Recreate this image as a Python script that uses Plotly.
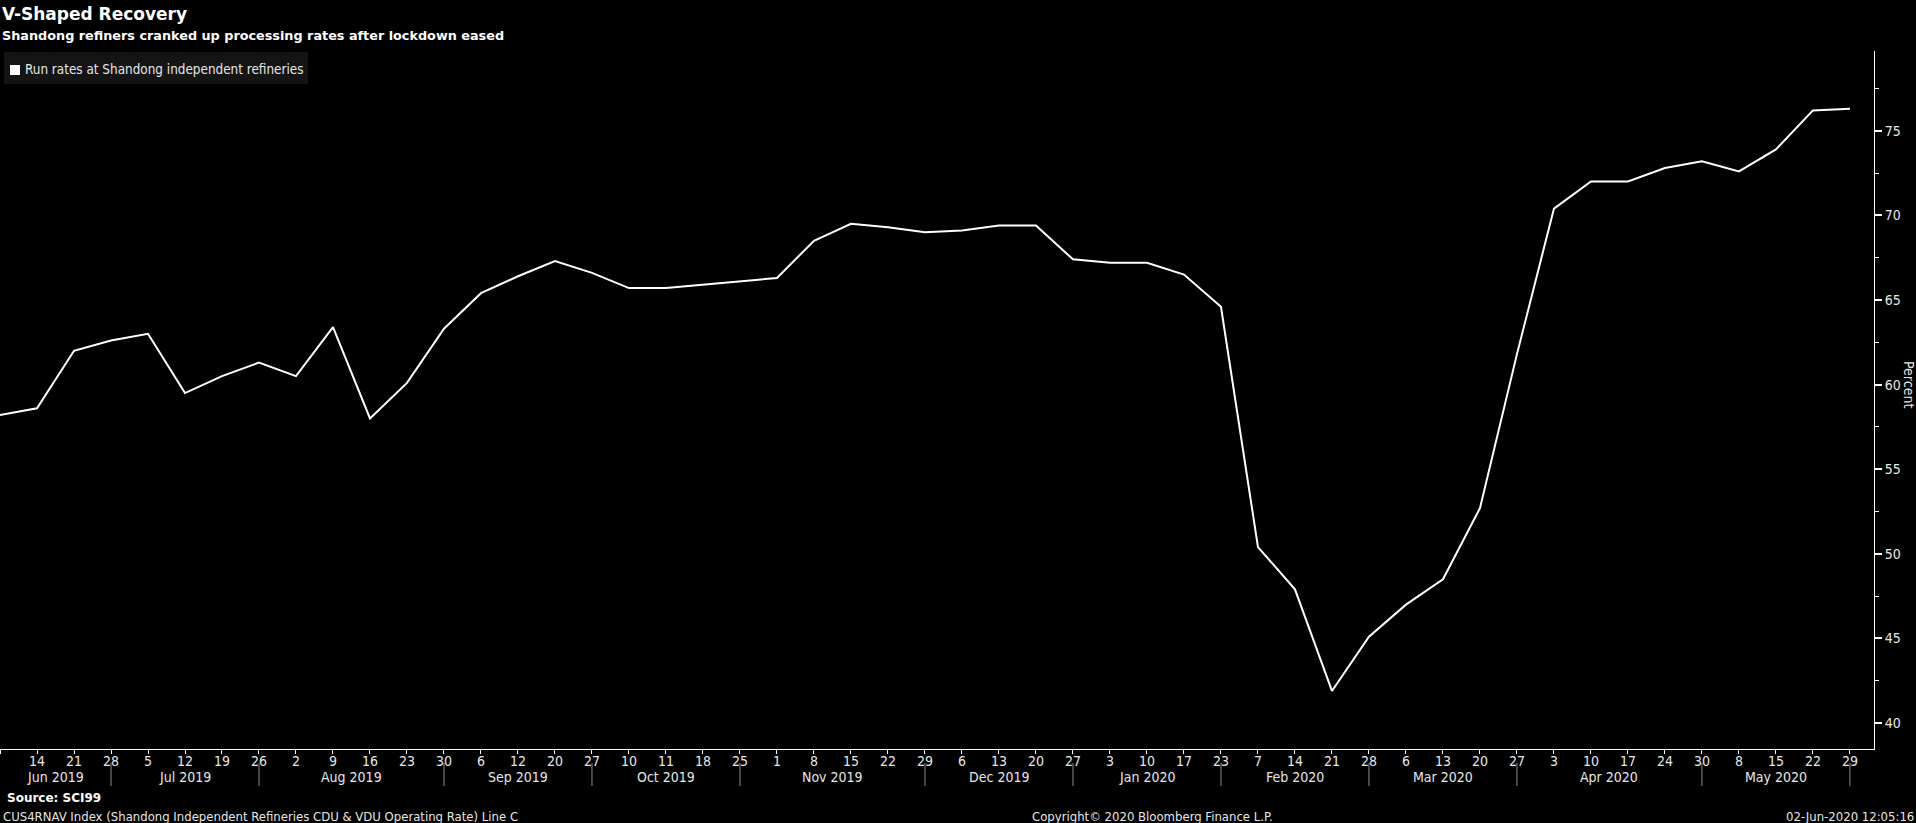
import plotly.graph_objects as go

# ---------------- data ----------------
day_labels = ["", "14", "21", "28", "5", "12", "19", "26", "2", "9", "16", "23", "30",
              "6", "12", "20", "27", "10", "11", "18", "25", "1", "8", "15", "22", "29",
              "6", "13", "20", "27", "3", "10", "17", "23", "7", "14", "21", "28",
              "6", "13", "20", "27", "3", "10", "17", "24", "30", "8", "15", "22", "29"]
run_rates = [58.2, 58.6, 62.0, 62.6, 63.0, 59.5, 60.5, 61.3, 60.5, 63.4, 58.0, 60.1, 63.3,
             65.4, 66.4, 67.3, 66.6, 65.7, 65.7, 65.9, 66.1, 66.3, 68.5, 69.5, 69.3, 69.0,
             69.1, 69.4, 69.4, 67.4, 67.2, 67.2, 66.5, 64.6, 50.4, 47.9, 41.9, 45.1,
             47.0, 48.5, 52.7, 61.8, 70.4, 72.0, 72.0, 72.8, 73.2, 72.6, 73.9, 76.2, 76.3]
month_labels = ["Jun 2019", "Jul 2019", "Aug 2019", "Sep 2019", "Oct 2019", "Nov 2019",
                "Dec 2019", "Jan 2020", "Feb 2020", "Mar 2020", "Apr 2020", "May 2020"]
month_last_index = [3, 7, 12, 16, 20, 25, 29, 33, 37, 41, 46, 50]
y_ticks = [40, 45, 50, 55, 60, 65, 70, 75]

# ---------------- layout geometry ----------------
W, H = 1916, 823
ML, MR, MT, MB = 0, 42, 51, 74
PW = W - ML - MR
PH = H - MT - MB
plot_bottom = H - MB


def py(ypix):
    return (plot_bottom - ypix) / PH


def px(xpix):
    return (xpix - ML) / PW


NARROW = "Liberation Sans Narrow, DejaVu Sans Condensed, Arial Narrow, sans-serif"
BOLD = "DejaVu Sans, Verdana, sans-serif"
TXT = "#e6e6e6"

x_idx = list(range(len(run_rates)))

fig = go.Figure()
fig.add_trace(go.Scatter(x=x_idx, y=run_rates, mode="lines",
                         line=dict(color="white", width=2),
                         showlegend=False, hoverinfo="y"))

shapes = []
annotations = []

# day labels under the ticks
for i, lab in zip(x_idx, day_labels):
    if lab:
        annotations.append(dict(xref="x", yref="paper", x=i, y=py(761), text=lab,
                                showarrow=False, xanchor="center", yanchor="middle",
                                font=dict(family=NARROW, size=14, color=TXT)))

# month separators and month labels
prev = 0
for lab, last in zip(month_labels, month_last_index):
    shapes.append(dict(type="line", xref="x", yref="paper", x0=last, x1=last,
                       y0=py(763), y1=py(786), line=dict(color="#8a8a8a", width=1)))
    annotations.append(dict(xref="x", yref="paper", x=(prev + last) / 2, y=py(777),
                            text=lab, showarrow=False, xanchor="center", yanchor="middle",
                            font=dict(family=NARROW, size=14, color=TXT)))
    prev = last

# legend box
shapes.append(dict(type="rect", xref="paper", yref="paper", x0=px(4), x1=px(308),
                   y0=py(84), y1=py(52), fillcolor="#141414", line=dict(width=0),
                   layer="above"))
shapes.append(dict(type="rect", xref="paper", yref="paper", x0=px(10), x1=px(20),
                   y0=py(75), y1=py(65), fillcolor="white", line=dict(width=0),
                   layer="above"))
annotations.append(dict(xref="paper", yref="paper", x=px(23), y=py(70),
                        text="Run rates at Shandong independent refineries",
                        showarrow=False, xanchor="left", yanchor="middle",
                        font=dict(family=NARROW, size=13.4, color=TXT)))

# titles
annotations.append(dict(xref="paper", yref="paper", x=px(0), y=py(14),
                        text="<b>V-Shaped Recovery</b>", showarrow=False,
                        xanchor="left", yanchor="middle",
                        font=dict(family=BOLD, size=17, color="white")))
annotations.append(dict(xref="paper", yref="paper", x=px(0), y=py(35),
                        text="<b>Shandong refiners cranked up processing rates after lockdown eased</b>",
                        showarrow=False, xanchor="left", yanchor="middle",
                        font=dict(family=BOLD, size=12.8, color="white")))

# axis title on the right (reads top-to-bottom)
annotations.append(dict(xref="paper", yref="paper", x=px(1909), y=py(384),
                        text="Percent", showarrow=False, textangle=90,
                        xanchor="center", yanchor="middle",
                        font=dict(family=NARROW, size=14, color=TXT)))

# footer
annotations.append(dict(xref="paper", yref="paper", x=px(5), y=py(798),
                        text="<b>Source: SCI99</b>", showarrow=False,
                        xanchor="left", yanchor="middle",
                        font=dict(family=BOLD, size=12, color="white")))
annotations.append(dict(xref="paper", yref="paper", x=px(1), y=py(816),
                        text="CUS4RNAV Index (Shandong Independent Refineries CDU &amp; VDU Operating Rate) Line C",
                        showarrow=False, xanchor="left", yanchor="middle",
                        font=dict(family=NARROW, size=13, color=TXT)))
annotations.append(dict(xref="paper", yref="paper", x=px(1152), y=py(816),
                        text="Copyright\u00a9 2020 Bloomberg Finance L.P.",
                        showarrow=False, xanchor="center", yanchor="middle",
                        font=dict(family=NARROW, size=13, color=TXT)))
annotations.append(dict(xref="paper", yref="paper", x=px(1916), y=py(816),
                        text="02-Jun-2020 12:05:16",
                        showarrow=False, xanchor="right", yanchor="middle",
                        font=dict(family=NARROW, size=13, color=TXT)))

fig.update_layout(
    width=W, height=H,
    margin=dict(l=ML, r=MR, t=MT, b=MB, pad=0),
    paper_bgcolor="black", plot_bgcolor="black",
    showlegend=False,
    shapes=shapes, annotations=annotations,
    xaxis=dict(range=[0, 50.65], tickmode="array", tickvals=x_idx,
               showticklabels=False,
               showgrid=False, zeroline=False, showline=True, linecolor="white",
               linewidth=1, ticks="outside", ticklen=4, tickcolor="white",
               fixedrange=True),
    yaxis=dict(range=[38.47, 79.71], side="right", tickmode="array", tickvals=y_ticks,
               showgrid=False, zeroline=False, showline=True, linecolor="white",
               linewidth=1, ticks="outside", ticklen=7, tickwidth=2, tickcolor="white",
               minor=dict(dtick=2.5, tick0=37.5, ticks="outside", ticklen=4,
                          tickcolor="white", tickwidth=1),
               tickfont=dict(family=NARROW, size=14, color=TXT), fixedrange=True),
)

fig.write_html(
    "out.html",
    config={"displayModeBar": False},
    post_script="document.body.style.margin='0px';"
                "document.body.style.backgroundColor='black';"
                "document.body.style.overflow='hidden';",
)
